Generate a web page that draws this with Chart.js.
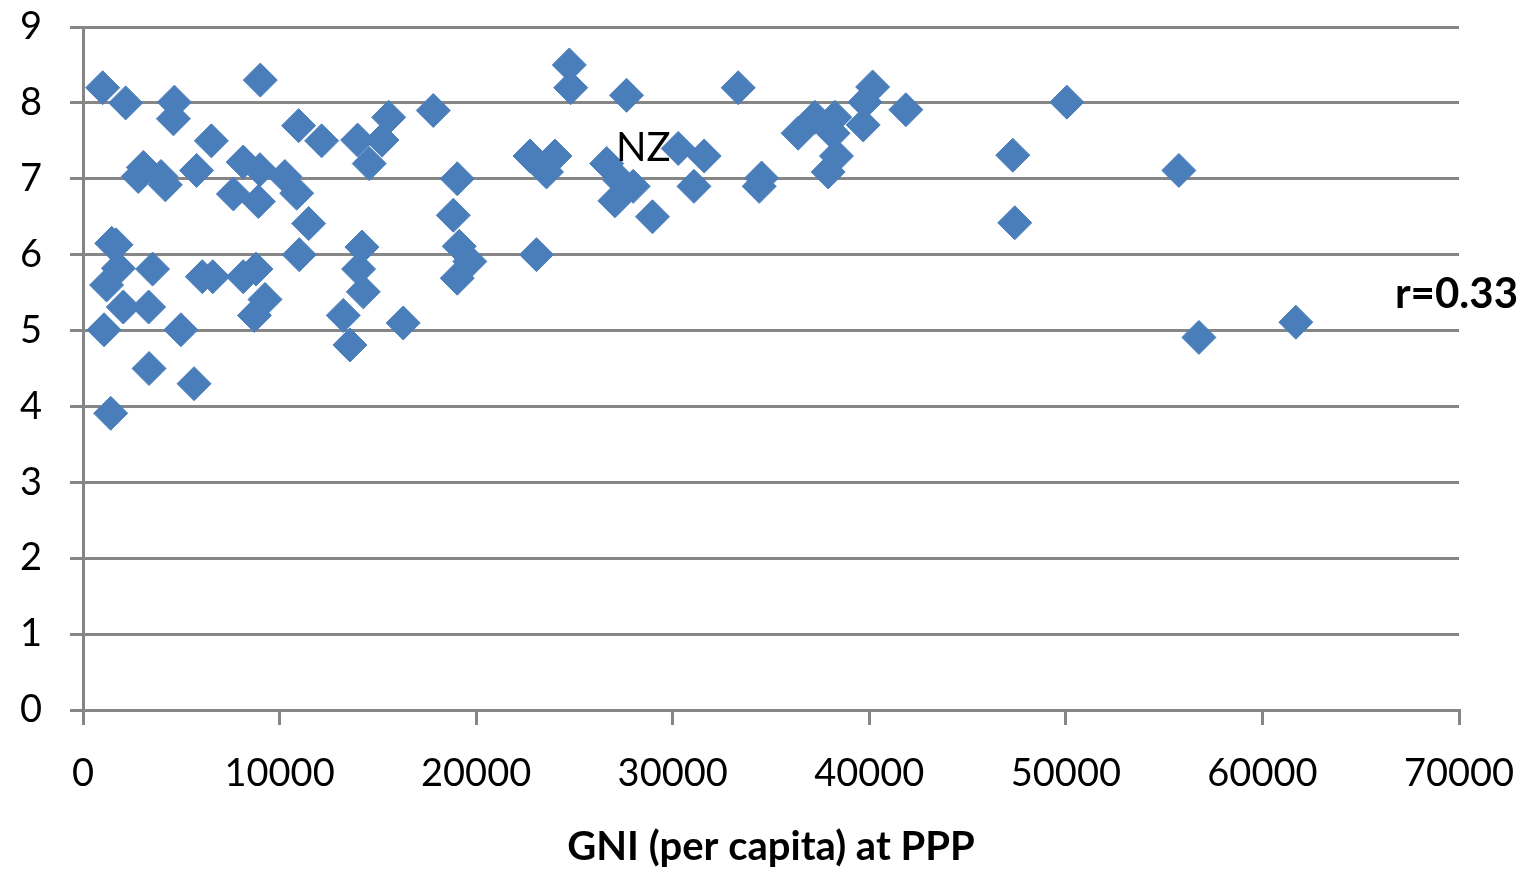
<!DOCTYPE html>
<html>
<head>
<meta charset="utf-8">
<script src="https://cdn.jsdelivr.net/npm/chart.js@4/dist/chart.umd.min.js"></script>
<style>
  html, body { margin: 0; padding: 0; background: #fff; }
  #wrap { width: 1526px; height: 879px; position: relative; }
</style>
</head>
<body>
<div id="wrap"><canvas id="chart"></canvas></div>
<script>
// GNI per capita (PPP) against score
const gni = [
  1000, 2170, 4650, 4600, 9020, 6530, 10970, 12140, 13970, 15210, 15550, 14560, 17820,
  2810, 3070, 4190, 3970, 5780, 8150, 9000, 7650, 8920, 10270, 10870, 11480,
  1460, 1680, 1800, 1200, 3540, 2050, 3340, 1070, 4980, 3360, 5650, 1410,
  6070, 6600, 8150, 8800, 9260, 8720, 11000, 14190, 14020, 14260, 13240, 13580, 16290,
  19040, 18840, 19140, 19680, 19040, 24740, 24810, 27650, 33330, 22740, 24010, 23580,
  23070, 26640, 27990, 27060, 27310, 28970, 30280, 31600, 31080, 34520, 34400,
  36380, 37230, 38250, 38160, 38330, 37910, 39690, 39780, 40170, 41860,
  47300, 47400, 50050, 55750, 56770, 61700
];
const score = [
  8.20, 8.00, 8.01, 7.79, 8.30, 7.50, 7.70, 7.50, 7.51, 7.51, 7.81, 7.20, 7.90,
  7.03, 7.15, 6.92, 7.03, 7.11, 7.22, 7.12, 6.80, 6.70, 7.03, 6.81, 6.41,
  6.15, 6.13, 5.82, 5.60, 5.81, 5.31, 5.31, 5.01, 5.01, 4.50, 4.30, 3.91,
  5.71, 5.71, 5.71, 5.81, 5.41, 5.20, 6.00, 6.10, 5.81, 5.51, 5.20, 4.81, 5.10,
  7.00, 6.52, 6.11, 5.91, 5.69, 8.50, 8.20, 8.10, 8.20, 7.30, 7.30, 7.09,
  6.00, 7.20, 6.90, 6.71, 6.98, 6.50, 7.40, 7.30, 6.90, 7.01, 6.90,
  7.60, 7.81, 7.81, 7.60, 7.30, 7.09, 7.71, 8.01, 8.21, 7.91,
  7.31, 6.42, 8.01, 7.11, 4.91, 5.11
];
const xTicks = [0, 10000, 20000, 30000, 40000, 50000, 60000, 70000];
const yTicks = [0, 1, 2, 3, 4, 5, 6, 7, 8, 9];
const nzLabel = { text: 'NZ', x: 28500, y: 7.4 };
const corrLabel = { text: 'r=0.33', y: 5.47 };

const grey = '#868686';
const fontFamily = 'Lato, "Open Sans", sans-serif';

// text notes drawn on top of the plot
const notes = {
  id: 'notes',
  afterDatasetsDraw(chart) {
    const { ctx, scales: { x, y }, chartArea } = chart;
    ctx.save();
    ctx.fillStyle = '#000';
    ctx.textBaseline = 'middle';
    ctx.font = '40px ' + fontFamily;
    ctx.textAlign = 'center';
    ctx.fillText(nzLabel.text, x.getPixelForValue(nzLabel.x), y.getPixelForValue(nzLabel.y));
    ctx.font = 'bold 42px ' + fontFamily;
    ctx.textAlign = 'right';
    ctx.fillText(corrLabel.text, chartArea.right + 59, y.getPixelForValue(corrLabel.y));
    ctx.restore();
  }
};

new Chart(document.getElementById('chart'), {
  type: 'scatter',
  data: {
    datasets: [{
      data: gni.map((g, i) => ({ x: g, y: score[i] })),
      pointStyle: 'rectRot',
      pointRadius: 17,
      pointHoverRadius: 17,
      backgroundColor: '#4a7ebb',
      borderColor: '#4a7ebb',
      borderWidth: 1
    }]
  },
  options: {
    responsive: true,
    maintainAspectRatio: false,
    animation: false,
    layout: { padding: { left: 0, right: 67, top: 27, bottom: 0 } },
    plugins: { legend: { display: false }, tooltip: { enabled: false } },
    scales: {
      x: {
        type: 'linear',
        min: 0, max: 70000,
        afterBuildTicks: s => { s.ticks = xTicks.map(v => ({ value: v })); },
        afterFit: s => { s.height = 169; s.paddingLeft = 0; s.paddingRight = 0; },
        grid: { drawOnChartArea: false, drawTicks: true, tickLength: 15, color: grey, lineWidth: 3 },
        border: { display: true, color: grey, width: 3 },
        ticks: {
          color: '#000', font: { family: fontFamily, size: 38 }, padding: 26, maxRotation: 0,
          callback: v => String(v)
        },
        title: {
          display: true, text: 'GNI (per capita) at PPP', color: '#000',
          font: { family: fontFamily, size: 40, weight: 'bold' }, padding: { top: 10, bottom: 8 }
        }
      },
      y: {
        min: 0, max: 9,
        afterBuildTicks: s => { s.ticks = yTicks.map(v => ({ value: v })); },
        afterFit: s => { s.width = 83; s.paddingTop = 0; s.paddingBottom = 0; },
        grid: { drawTicks: true, tickLength: 13, color: grey, lineWidth: 3 },
        border: { display: true, color: grey, width: 3 },
        ticks: { color: '#000', font: { family: fontFamily, size: 38 }, padding: 28, callback: v => String(v) }
      }
    }
  },
  plugins: [notes]
});
</script>
</body>
</html>
